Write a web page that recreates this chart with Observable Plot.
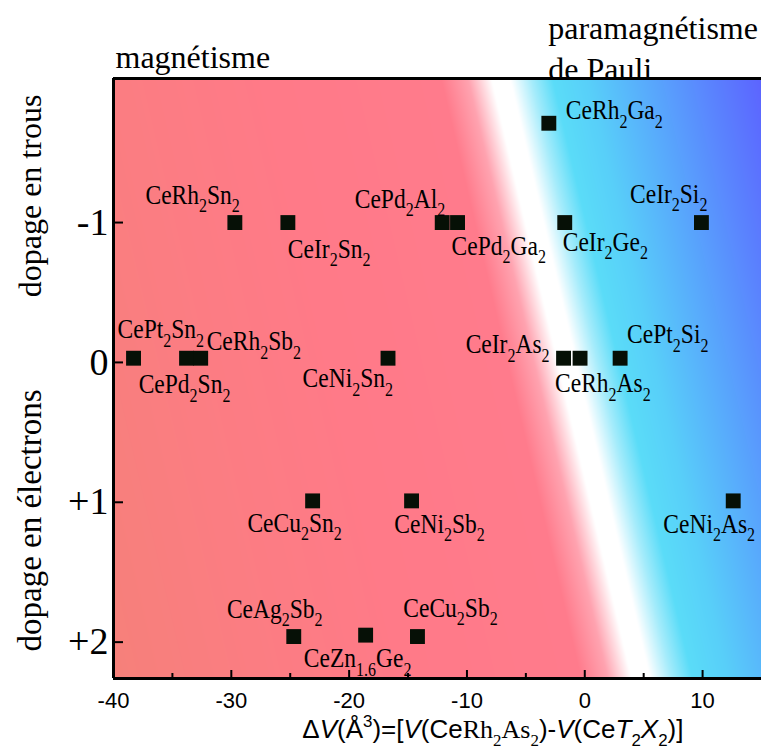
<!DOCTYPE html>
<html><head><meta charset="utf-8">
<script src="https://cdn.jsdelivr.net/npm/d3@7"></script>
<script src="https://cdn.jsdelivr.net/npm/@observablehq/plot@0.6"></script>
<style>body{margin:0;background:#fff} svg{display:block}</style>
</head><body><div id="chart"></div>
<script>
// ---------- data ----------
const compounds = ["CeRh_2Ga_2","CeRh_2Sn_2","CeIr_2Sn_2","CePd_2Al_2","CePd_2Ga_2","CeIr_2Ge_2","CeIr_2Si_2",
  "CePt_2Sn_2","CePd_2Sn_2","CeRh_2Sb_2","CeNi_2Sn_2","CeIr_2As_2","CeRh_2As_2","CePt_2Si_2",
  "CeCu_2Sn_2","CeNi_2Sb_2","CeNi_2As_2","CeAg_2Sb_2","CeZn_{1.6}Ge_2","CeCu_2Sb_2"];
const deltaV = [-3.05,-29.7,-25.2,-12.1,-10.8,-1.7,9.9,
  -38.3,-33.8,-32.6,-16.7,-1.8,-0.4,3.0,
  -23.1,-14.7,12.6,-24.7,-18.6,-14.2];
const doping = [-1.71,-1.0,-1.0,-1.0,-1.0,-1.0,-1.0,
  -0.03,-0.03,-0.03,-0.03,-0.03,-0.03,-0.03,
  0.99,0.99,0.99,1.96,1.95,1.96];
const xTicks = [-40,-30,-20,-10,0,10];
const xMinorTicks = [-35,-25,-15,-5,5];
const yTicks = [-1,0,1,2];
const yTickLabels = ["-1","0","+1","+2"];
const regionLabels = ["magnétisme","paramagnétisme\nde Pauli"];
const dopingTitles = ["dopage en trous","dopage en électrons"];
const xTitleParts = [["Δ","s"],["V","i"],["(Å","s"],["3","sup"],[")=[","s"],["V","i"],["(Ce","s"],["Rh","r"],["2","rsub"],["As","r"],["2","rsub"],[")-","s"],["V","i"],["(Ce","s"],["T","i"],["2","sub"],["X","i"],["2","sub"],[")]","s"]];

// ---------- layout / style ----------
const X_DOMAIN = [-40, 15];
const Y_DOMAIN = [-2.03, 2.26];
const BOUNDARY = [-6.72, 5.16]; // x of white band at top / bottom of frame
const shadeStops = [-45,-33,-20,-5.5,-3.2,-1.2,0.4,2.2,4,7,12,17,22];
const shadeColors = ["#f6807a","#fb7d82","#ff7a88","#ff7b8c","#ffa3b0","#ffffff","#ffffff","#a5ecfb","#5adcf8","#58cff9","#58aafc","#5a85fe","#5c62ff"];
// [textAnchor, dx, dy] per compound label
const labelPlacement = [
  ["start",17,-13],["end",5,-28],["start",0,26],["end",3,-24],["start",-6,23],["start",-2,19],["end",6,-29],
  ["start",-16,-29],["middle",-2,26],["start",6,-17],["end",5,20],["end",-14,-14],["start",-25,25],["start",7,-24],
  ["middle",-18,22],["middle",28,23],["middle",-24,23],["middle",-19,-28],["middle",-8,23],["middle",33,-29]];

const W = 761, H = 753, ML = 113, MR = 0, MT = 78, MB = 75;
const FW = W - ML - MR, FH = H - MT - MB;
const LABEL_FS = 28, SERIF = "Liberation Serif", SANS = "Liberation Sans";

const points = compounds.map((c, i) => ({c, x: deltaV[i], y: doping[i]}));
const boundaryX = y => BOUNDARY[0] + (y - Y_DOMAIN[0]) * (BOUNDARY[1] - BOUNDARY[0]) / (Y_DOMAIN[1] - Y_DOMAIN[0]);

const labelMarks = points.map((p, i) => Plot.text([p], {
  x: "x", y: "y", text: "c", textAnchor: labelPlacement[i][0], dx: labelPlacement[i][1], dy: labelPlacement[i][2],
  fontSize: LABEL_FS, fontFamily: SERIF, fill: "black"
}));

const plot = Plot.plot({
  width: W, height: H, marginLeft: ML, marginRight: MR, marginTop: MT, marginBottom: MB,
  style: {fontFamily: SERIF, color: "black", background: "white", overflow: "visible"},
  x: {domain: X_DOMAIN},
  y: {domain: Y_DOMAIN, reverse: true},
  color: {type: "linear", domain: shadeStops, range: shadeColors, clamp: true, interpolate: "rgb"},
  marks: [
    Plot.raster({x1: X_DOMAIN[0], x2: X_DOMAIN[1], y1: Y_DOMAIN[0], y2: Y_DOMAIN[1], fill: (x, y) => x - boundaryX(y), pixelSize: 1}),
    Plot.tickX(xTicks, {x: d => d, insetTop: FH - 8, stroke: "black", strokeWidth: 2}),
    Plot.tickX(xMinorTicks, {x: d => d, insetTop: FH - 5, stroke: "black", strokeWidth: 2}),
    Plot.tickY(yTicks, {y: d => d, insetRight: FW - 10, stroke: "black", strokeWidth: 2}),
    Plot.ruleX([X_DOMAIN[0]], {stroke: "black", strokeWidth: 3}),
    Plot.ruleY(Y_DOMAIN, {stroke: "black", strokeWidth: 3}),
    Plot.axisX(xTicks, {tickSize: 0, tickPadding: 14, fontSize: 22, fontFamily: SANS, tickFormat: d => String(d), label: null}),
    Plot.axisY(yTicks, {tickSize: 0, tickPadding: 5, fontSize: 38, fontFamily: SERIF, tickFormat: d => yTickLabels[yTicks.indexOf(d)], label: null}),
    Plot.dot(points, {x: "x", y: "y", symbol: "square", r: 8.4, fill: "#061006"}),
    ...labelMarks,
    Plot.text([regionLabels[0]], {frameAnchor: "top-left", textAnchor: "start", lineAnchor: "top", dx: 2, dy: -33.7, fontSize: 32, fontFamily: SERIF}),
    Plot.text([regionLabels[1]], {x: -3.1, frameAnchor: "top", textAnchor: "start", lineAnchor: "top", lineHeight: 1.28, dy: -68.7, fontSize: 32, fontFamily: SERIF}),
    Plot.text([dopingTitles[0]], {frameAnchor: "left", y: -1.19, rotate: -90, textAnchor: "middle", dx: -83, fontSize: 32, fontFamily: SERIF}),
    Plot.text([dopingTitles[1]], {frameAnchor: "left", y: 1.13, rotate: -90, textAnchor: "middle", dx: -83, fontSize: 33, fontFamily: SERIF}),
    Plot.text(["XTITLE"], {x: -7.8, frameAnchor: "bottom", textAnchor: "middle", dy: 59.5, fontSize: 26, fontFamily: SANS})
  ]
});

// ---------- rich text post-processing ----------
const NS = "http://www.w3.org/2000/svg";
function richify(t, s, fs) {
  t.textContent = "";
  const re = /_\{([^}]*)\}|_(\d)|([^_]+)/g;
  let m, shifted = false;
  const sh = 0.3 * fs;
  while ((m = re.exec(s))) {
    const ts = document.createElementNS(NS, "tspan");
    if (m[3] !== undefined) {
      ts.textContent = m[3];
      if (shifted) { ts.setAttribute("dy", -sh); shifted = false; }
    } else {
      ts.textContent = m[1] !== undefined ? m[1] : m[2];
      ts.setAttribute("font-size", 0.68 * fs);
      if (!shifted) { ts.setAttribute("dy", sh); shifted = true; }
    }
    t.appendChild(ts);
  }
}
function compress(t, k) {
  const tr = t.getAttribute("transform");
  if (tr) t.setAttribute("transform", tr + ` scale(${k},1)`);
  else {
    const x = +t.getAttribute("x") || 0, y = +t.getAttribute("y") || 0;
    t.removeAttribute("x"); t.removeAttribute("y");
    t.setAttribute("transform", `translate(${x},${y}) scale(${k},1)`);
  }
}
function buildTitle(t, fs) {
  t.textContent = "";
  let off = 0;
  for (const [s, k] of xTitleParts) {
    const ts = document.createElementNS(NS, "tspan");
    ts.textContent = s;
    let target = 0;
    if (k === "i") ts.setAttribute("font-style", "italic");
    if (k === "r" || k === "rsub") ts.setAttribute("font-family", SERIF);
    if (k === "sub" || k === "rsub") { ts.setAttribute("font-size", 0.65 * fs); target = 0.3 * fs; }
    if (k === "sup") { ts.setAttribute("font-size", 0.65 * fs); target = -0.42 * fs; }
    if (target !== off) { ts.setAttribute("dy", target - off); off = target; }
    t.appendChild(ts);
  }
}
plot.querySelectorAll("text").forEach(t => {
  const s = t.textContent;
  if (s === "XTITLE") buildTitle(t, 26);
  else if (s.includes("_")) { richify(t, s, LABEL_FS); compress(t, 0.84); }
});
document.getElementById("chart").appendChild(plot);
</script>
</body></html>
